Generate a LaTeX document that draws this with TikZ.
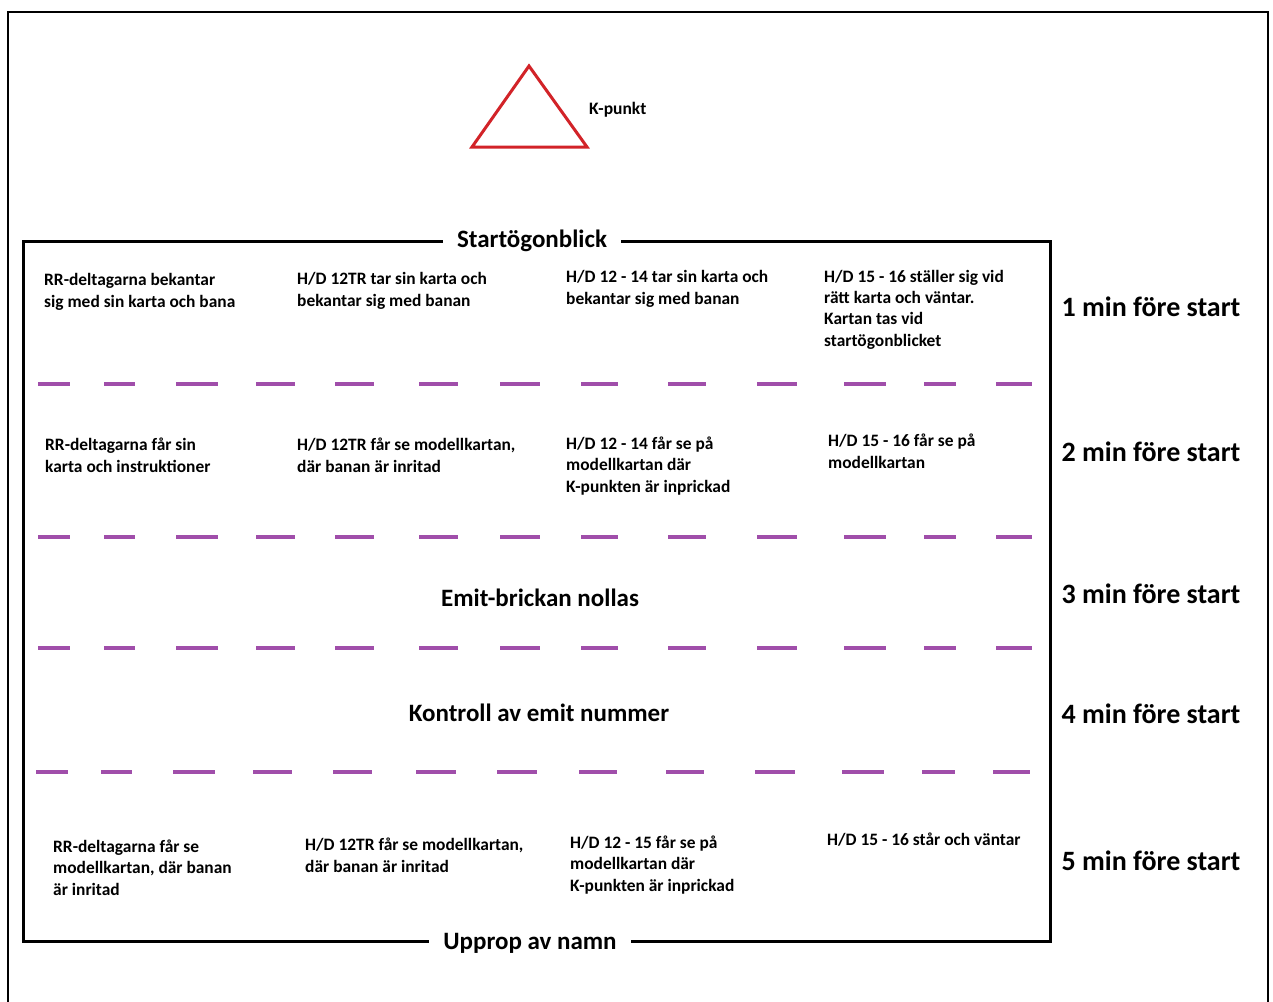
\documentclass[tikz,border=0pt]{standalone}
\usepackage{fontspec}
\setmainfont{Carlito}
\definecolor{dashpurple}{RGB}{160,78,170}
\definecolor{kred}{RGB}{210,35,40}
\begin{document}
\begin{tikzpicture}[x=1pt,y=-1pt,
  body/.style={anchor=base west, inner sep=0pt, align=left, font=\fontsize{17.4}{21.3}\selectfont\bfseries},
  timelbl/.style={anchor=base, inner sep=0pt, font=\fontsize{28}{32}\selectfont\bfseries},
  midlbl/.style={anchor=base, inner sep=0pt, font=\fontsize{25}{29}\selectfont\bfseries},
  edgelbl/.style={fill=white, inner sep=0pt, inner xsep=14pt, font=\fontsize{25}{29}\selectfont\bfseries, anchor=base},
  sepline/.style={dashpurple, line width=4pt},
  frame/.style={black, line width=2.5pt},
  innerframe/.style={black, line width=3pt},
  kshape/.style={kred, line width=3pt, line join=miter},
]
\useasboundingbox (0,0) rectangle (1273,1001);
\clip (0,0) rectangle (1273,1001);
\fill[white] (0,0) rectangle (1273,1001);

% outer frame
\draw[frame] (8,12) rectangle (1268,1030);

% K-punkt triangle
\coordinate (ktop) at (529,66);
\coordinate (kright) at (587,147);
\coordinate (kleft) at (472,147);
\draw[kshape] (ktop) -- (kright) -- (kleft) -- cycle;
\node[anchor=west, inner sep=0pt, font=\fontsize{17.5}{20}\selectfont\bfseries] (kp) at (589,110) {K-punkt};

% inner box
\draw[innerframe] (23,241) rectangle (1050,941);
\node[edgelbl] (start) at (532,247) {Startögonblick};
\node[edgelbl] (upprop) at (530,949) {Upprop av namn};

% separators
\foreach \yy in {384,537,648}{
  \foreach \xa/\xb in {38/70,104/135,176/218,256/295,335/374,419/458,500/540,581/618,668/706,757/797,844/886,924/956,996/1032}{
    \draw[sepline] (\xa,\yy) -- (\xb,\yy);
  }
}
\foreach \xa/\xb in {36/68,101/132,173/215,253/292,333/372,416/456,497/537,579/617,666/704,755/795,842/884,922/955,993/1030}{
  \draw[sepline] (\xa,772) -- (\xb,772);
}

% row 1 (1 min) -- anchors at baseline of last line
\node[body] (r1a) at (44,307) {RR-deltagarna bekantar\\sig med sin karta och bana};
\node[body] (r1b) at (297,306) {H/D 12TR tar sin karta och\\bekantar sig med banan};
\node[body] (r1c) at (566,304) {H/D 12 - 14 tar sin karta och\\bekantar sig med banan};
\node[body] (r1d) at (824,346) {H/D 15 - 16 ställer sig vid\\rätt karta och väntar.\\Kartan tas vid\\startögonblicket};

% row 2 (2 min)
\node[body] (r2a) at (45,472) {RR-deltagarna får sin\\karta och instruktioner};
\node[body] (r2b) at (297,472) {H/D 12TR får se modellkartan,\\där banan är inritad};
\node[body] (r2c) at (566,492) {H/D 12 - 14 får se på\\modellkartan där\\K-punkten är inprickad};
\node[body] (r2d) at (828,468) {H/D 15 - 16 får se på\\modellkartan};

% row 3 and 4
\node[midlbl] (emit) at (540,606) {Emit-brickan nollas};
\node[midlbl] (kontroll) at (539,721) {Kontroll av emit nummer};

% row 5 (5 min)
\node[body] (r5a) at (53,895) {RR-deltagarna får se\\modellkartan, där banan\\är inritad};
\node[body] (r5b) at (305,872) {H/D 12TR får se modellkartan,\\där banan är inritad};
\node[body] (r5c) at (570,891) {H/D 12 - 15 får se på\\modellkartan där\\K-punkten är inprickad};
\node[body] (r5d) at (827,845) {H/D 15 - 16 står och väntar};

% time labels
\node[timelbl] (t1) at (1151,316) {1 min före start};
\node[timelbl] (t2) at (1151,461) {2 min före start};
\node[timelbl] (t3) at (1151,603) {3 min före start};
\node[timelbl] (t4) at (1151,723) {4 min före start};
\node[timelbl] (t5) at (1151,870) {5 min före start};
\end{tikzpicture}
\end{document}
